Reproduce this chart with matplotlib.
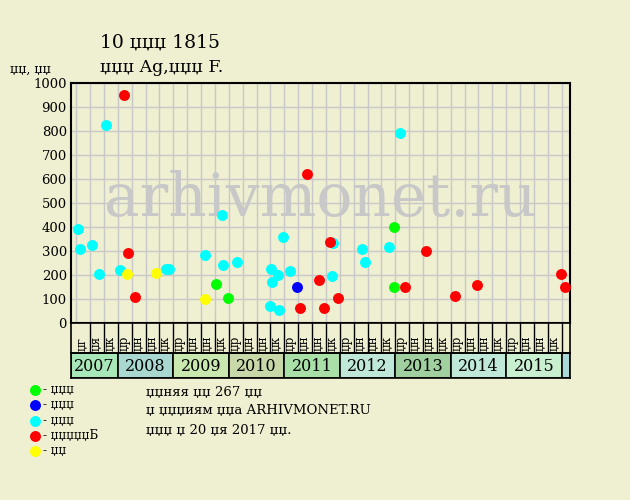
import matplotlib
matplotlib.use("Agg")
import matplotlib.pyplot as plt
from matplotlib.patches import Rectangle

# ---------------- data ----------------
cyan_x = [2007.286, 2007.322, 2007.533, 2007.654, 2007.791, 2008.038, 2008.867, 2008.926,
          2009.570, 2009.876, 2009.894, 2010.152, 2010.741, 2010.759, 2010.783, 2010.891,
          2010.904, 2010.981, 2011.102, 2011.872, 2011.864, 2012.405, 2012.459, 2012.892,
          2013.090]
cyan_y = [390, 307, 325, 203, 824, 221, 224, 224,
          282, 450, 240, 254, 71, 226, 171, 199,
          53, 358, 216, 332, 196, 307, 253, 317,
          790]
green_x = [2009.768, 2009.990, 2012.982, 2012.982]
green_y = [161, 103, 400, 149]
blue_x = [2011.228]
blue_y = [149]
red_x = [2008.115, 2008.187, 2008.313, 2011.288, 2011.408, 2011.630, 2011.720, 2011.823,
         2011.972, 2013.180, 2013.553, 2014.081, 2014.478, 2015.992, 2016.064]
red_y = [949, 292, 107, 61, 621, 179, 61, 339,
         103, 149, 300, 111, 158, 204, 149]
yellow_x = [2008.160, 2008.687, 2009.570]
yellow_y = [203, 208, 100]

years = [2007, 2008, 2009, 2010, 2011, 2012, 2013, 2014, 2015]
year_colors = ['#a8e8b8', '#a8d8d0', '#c8e8b0', '#c8d8a8', '#a8e0a8',
               '#c0e8d8', '#a0d0a0', '#c0e8d8', '#c8f0d0']
extra_color = '#a8d8d8'
q_labels_first = ['џг', 'џя', 'џк']
q_labels = ['џр', 'џн', 'џн', 'џк']

title = '10 џџџ 1815'
subtitle = 'џџџ Ag,џџџ F.'
ylabel = 'џџ, џџ'
legend_labels = ['- џџџ', '- џџџ', '- џџџ', '- џџџџџБ', '- џџ']
notes = ['џџняя џџ 267 џџ', 'џ џџџиям џџа ARHIVMONET.RU', 'џџџ џ 20 џя 2017 џџ.']
watermark = 'arhivmonet.ru'

# ---------------- style ----------------
BG = '#efefd1'
GRID = '#c8c8c8'
plt.rcParams['font.family'] = ['DejaVu Serif']

W, H = 630, 500
fig = plt.figure(figsize=(W / 100, H / 100), dpi=100, facecolor=BG)

XL, XR = 2007.155, 2016.15
L, R, T, B = 71, 570, 83, 323

def rect(l, t, r, b):
    return [l / W, 1 - b / H, (r - l) / W, (b - t) / H]

ax = fig.add_axes(rect(L, T, R, B))
ax.set_facecolor(BG)
ax.set_xlim(XL, XR)
ax.set_ylim(0, 1000)
ax.set_yticks(range(0, 1001, 100))
qt = [2007.25 + k / 4 for k in range(36)]
ax.set_xticks(qt)
ax.set_xticklabels([])
ax.tick_params(axis='x', length=0)
ax.tick_params(axis='y', length=0, pad=3, labelsize=9.5)
ax.grid(True, color=GRID, lw=1, zorder=0)
ax.set_axisbelow(True)
for s in ax.spines.values():
    s.set_linewidth(1.5)
    s.set_color('black')

ax.text((XL + XR) / 2, 515, watermark, fontsize=43, color='#c8c8c8',
        ha='center', va='center', zorder=1)

ms = 62
h_cyan = ax.scatter(cyan_x, cyan_y, s=ms, c='#00ffff', zorder=3, linewidths=0)
h_green = ax.scatter(green_x, green_y, s=ms, c='#00ff00', zorder=3, linewidths=0)
h_blue = ax.scatter(blue_x, blue_y, s=ms, c='#0000ff', zorder=3, linewidths=0)
h_red = ax.scatter(red_x, red_y, s=ms, c='#ff0000', zorder=4, linewidths=0)
h_yellow = ax.scatter(yellow_x, yellow_y, s=ms, c='#ffff00', zorder=4, linewidths=0)

# quarter label band
lx = fig.add_axes(rect(L, B, R, 353))
lx.set_facecolor(BG)
lx.set_xlim(XL, XR)
lx.set_ylim(0, 1)
lx.set_xticks([]); lx.set_yticks([])
for s in lx.spines.values():
    s.set_linewidth(1.2)
for k in range(1, 36):
    lx.axvline(2007.25 + k / 4, color='black', lw=1)
labels_all = q_labels_first + q_labels * 8
for k, lab in enumerate(labels_all):
    lx.text(2007.25 + k / 4 + 0.11, 0.06, lab, rotation=90, fontsize=8.5,
            ha='center', va='bottom')

# year band
yx = fig.add_axes(rect(L, 353, R, 378))
yx.set_facecolor(BG)
yx.set_xlim(XL, XR)
yx.set_ylim(0, 1)
yx.set_xticks([]); yx.set_yticks([])
for s in yx.spines.values():
    s.set_linewidth(1.2)
for i, (yr, col) in enumerate(zip(years, year_colors)):
    x0 = XL if i == 0 else yr
    yx.add_patch(Rectangle((x0, 0), yr + 1 - x0, 1, facecolor=col, edgecolor='black', lw=1.2))
    yx.text((x0 + yr + 1) / 2, 0.45, str(yr), fontsize=11.5, ha='center', va='center')
yx.add_patch(Rectangle((2016, 0), XR - 2016, 1, facecolor=extra_color, edgecolor='black', lw=1.2))

# titles
fig.text(100 / W, 1 - 43 / H, title, fontsize=13.5, va='center', ha='left')
fig.text(100 / W, 1 - 67 / H, subtitle, fontsize=12.5, va='center', ha='left')
fig.text(10 / W, 1 - 69 / H, ylabel, fontsize=9, va='center', ha='left')

# legend
leg = fig.legend([h_green, h_blue, h_cyan, h_red, h_yellow], legend_labels,
                 loc='upper left', bbox_to_anchor=(28 / W, 1 - 383 / H),
                 frameon=False, fontsize=8.5, handletextpad=0.1, labelspacing=0.2,
                 handlelength=1.2, borderpad=0, borderaxespad=0, scatterpoints=1)

for i, n in enumerate(notes):
    fig.text(146 / W, 1 - (392 + i * 19) / H, n, fontsize=9.5, va='center', ha='left')

fig.savefig('out.png', dpi=100, facecolor=BG)
